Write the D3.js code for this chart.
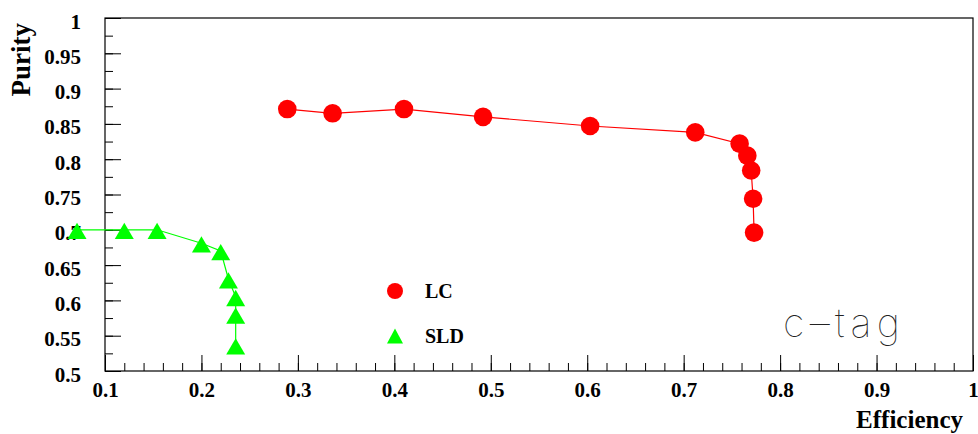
<!DOCTYPE html>
<html>
<head>
<meta charset="utf-8">
<script src="https://cdn.jsdelivr.net/npm/d3@7"></script>
<style>
  html, body { margin: 0; padding: 0; background: #fff; }
  svg { display: block; }
  text { font-family: "Liberation Serif", "Times New Roman", serif; font-weight: bold; }
</style>
</head>
<body>
<svg id="chart" width="978" height="434"></svg>
<script>
// ---- data ----
const lcEfficiency = [0.289, 0.336, 0.410, 0.492, 0.603, 0.712, 0.758, 0.766, 0.770, 0.772, 0.773];
const lcPurity     = [0.871, 0.865, 0.871, 0.860, 0.847, 0.838, 0.822, 0.805, 0.784, 0.744, 0.696];
const sldEfficiency = [0.071, 0.120, 0.154, 0.200, 0.220, 0.228, 0.2355, 0.2355, 0.2355];
const sldPurity     = [0.700, 0.700, 0.700, 0.681, 0.670, 0.630, 0.605, 0.580, 0.5365];
const xTickValues = [0.1, 0.2, 0.3, 0.4, 0.5, 0.6, 0.7, 0.8, 0.9, 1.0];
const xTickLabels = ["0.1", "0.2", "0.3", "0.4", "0.5", "0.6", "0.7", "0.8", "0.9", "1"];
const yTickValues = [0.5, 0.55, 0.6, 0.65, 0.7, 0.75, 0.8, 0.85, 0.9, 0.95, 1.0];
const yTickLabels = ["0.5", "0.55", "0.6", "0.65", "0.7", "0.75", "0.8", "0.85", "0.9", "0.95", "1"];
const xMinorTicks = d3.range(0, 46).map(i => +(0.1 + i * 0.02).toFixed(3));
const yMinorTicks = d3.range(0, 21).map(i => +(0.5 + i * 0.025).toFixed(4));
const seriesNames = ["LC", "SLD"];
const xTitle = "Efficiency";
const yTitle = "Purity";
const annotation = "c\u2013tag";

// ---- layout ----
const plotLeft = 105, plotRight = 973, plotTop = 18, plotBottom = 371;
const svg = d3.select("#chart");
const x = d3.scaleLinear().domain([0.1, 1.0]).range([plotLeft, plotRight]);
const y = d3.scaleLinear().domain([0.5, 1.0]).range([plotBottom, plotTop]);

// frame
svg.append("rect")
  .attr("x", plotLeft).attr("y", plotTop)
  .attr("width", plotRight - plotLeft).attr("height", plotBottom - plotTop)
  .attr("fill", "none").attr("stroke", "#000").attr("stroke-width", 1.2);

// x axis minor ticks
svg.append("g").attr("transform", `translate(0,${plotBottom})`)
  .call(d3.axisBottom(x).tickValues(xMinorTicks).tickSize(-8).tickFormat(""))
  .call(g => g.select(".domain").remove())
  .call(g => g.selectAll("line").attr("stroke", "#000").attr("stroke-width", 1));
// x axis major ticks + labels
svg.append("g").attr("transform", `translate(0,${plotBottom})`)
  .call(d3.axisBottom(x).tickValues(xTickValues).tickSize(-16).tickPadding(11)
        .tickFormat((d, i) => xTickLabels[i]))
  .call(g => g.select(".domain").remove())
  .call(g => g.selectAll("line").attr("stroke", "#000").attr("stroke-width", 1))
  .call(g => g.selectAll("text").attr("fill", "#000")
        .style("font-family", '"Liberation Serif", serif').style("font-weight", "bold").style("font-size", "21px"));

// y axis minor ticks
svg.append("g").attr("transform", `translate(${plotLeft},0)`)
  .call(d3.axisLeft(y).tickValues(yMinorTicks).tickSize(-8).tickFormat(""))
  .call(g => g.select(".domain").remove())
  .call(g => g.selectAll("line").attr("stroke", "#000").attr("stroke-width", 1));
// y axis major ticks + labels
svg.append("g").attr("transform", `translate(${plotLeft},0)`)
  .call(d3.axisLeft(y).tickValues(yTickValues).tickSize(-16).tickPadding(24)
        .tickFormat((d, i) => yTickLabels[i]))
  .call(g => g.select(".domain").remove())
  .call(g => g.selectAll("line").attr("stroke", "#000").attr("stroke-width", 1))
  .call(g => g.selectAll("text").attr("fill", "#000").attr("dy", "0.48em")
        .style("font-family", '"Liberation Serif", serif').style("font-weight", "bold").style("font-size", "21px"));

// axis titles
svg.append("text")
  .attr("x", 963).attr("y", 428)
  .attr("text-anchor", "end")
  .style("font-size", "25px")
  .text(xTitle);
svg.append("text")
  .attr("transform", "translate(30,23) rotate(-90)")
  .attr("text-anchor", "end")
  .style("font-size", "27px")
  .text(yTitle);

// series
const lcData = lcEfficiency.map((e, i) => [e, lcPurity[i]]);
const sldData = sldEfficiency.map((e, i) => [e, sldPurity[i]]);
const line = d3.line().x(d => x(d[0])).y(d => y(d[1]));

svg.append("path").datum(sldData)
  .attr("d", line).attr("fill", "none").attr("stroke", "#00ff00").attr("stroke-width", 1.2);
svg.append("path").datum(lcData)
  .attr("d", line).attr("fill", "none").attr("stroke", "#ff0000").attr("stroke-width", 1.2);

const tri = (cx, cy, w, up, down) => `M${cx - w / 2},${cy + down}L${cx + w / 2},${cy + down}L${cx},${cy - up}Z`;

svg.append("g").selectAll("path").data(sldData).join("path")
  .attr("d", d => tri(x(d[0]), y(d[1]), 19, 7, 9.3))
  .attr("fill", "#00ff00");

svg.append("g").selectAll("circle").data(lcData).join("circle")
  .attr("cx", d => x(d[0])).attr("cy", d => y(d[1])).attr("r", 9.3)
  .attr("fill", "#ff0000");

// legend
svg.append("circle").attr("cx", 395).attr("cy", 291).attr("r", 8).attr("fill", "#ff0000");
svg.append("path").attr("d", tri(395, 336, 16, 7.5, 7.5)).attr("fill", "#00ff00");
svg.append("text").attr("x", 425).attr("y", 298).style("font-size", "20px").text(seriesNames[0]);
svg.append("text").attr("x", 425).attr("y", 343).style("font-size", "20px").text(seriesNames[1]);

// annotation
svg.append("text")
  .attr("x", 783).attr("y", 337)
  .attr("textLength", 117).attr("lengthAdjust", "spacing")
  .style("font-family", "Inter, Lato, Roboto, sans-serif")
  .style("font-weight", "100")
  .style("font-size", "40px")
  .attr("fill", "#222")
  .text(annotation);
</script>
</body>
</html>
